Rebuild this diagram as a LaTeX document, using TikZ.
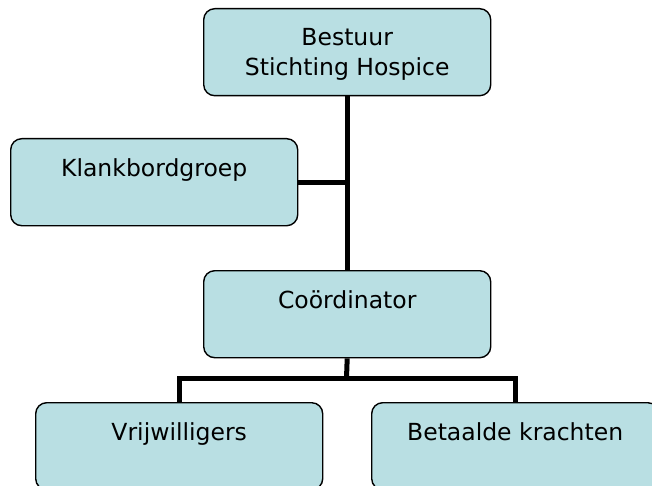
\documentclass[tikz,border=0pt]{standalone}
\usepackage{fontspec}
\setmainfont{DejaVu Sans}
\definecolor{boxfill}{HTML}{B9DFE3}
\begin{document}
\begin{tikzpicture}[x=1pt,y=-1pt,
  orgbox/.style={draw=black,line width=1.4pt,fill=boxfill,rounded corners=11pt,
    minimum width=287pt,minimum height=87pt,inner sep=0pt,anchor=north west},
  boxtext/.style={font=\fontsize{23.5}{30}\selectfont,align=center,anchor=north,inner sep=0pt},
  link/.style={line width=5pt}]
\useasboundingbox (0,0) rectangle (652,486);
\clip (0,0) rectangle (652,486);
% boxes
\node[orgbox] (top) at (203,8) {};
\node[orgbox] (klank) at (10,138) {};
\node[orgbox] (coord) at (203,270) {};
\node[orgbox] (vrij) at (35,402) {};
\node[orgbox] (bet) at (371,402) {};
% texts
\node[boxtext] (ttop) at ([yshift=-20pt]top.north) {Bestuur\\Stichting Hospice};
\node[boxtext] (tklank) at ([yshift=-20pt]klank.north) {Klankbordgroep};
\node[boxtext] (tcoord) at ([yshift=-20pt]coord.north) {Coördinator};
\node[boxtext] (tvrij) at ([yshift=-20pt]vrij.north) {Vrijwilligers};
\node[boxtext] (tbet) at ([yshift=-20pt]bet.north) {Betaalde krachten};
% connectors
\coordinate (bus) at (346.5,378);
\draw[link] (top.south) -- (coord.north);
\draw[link] (klank.east) -- (klank.east -| top.south);
\draw[link] (coord.south) -- (bus);
\draw[link,line join=miter] (vrij.north) |- (bus) -| (bet.north);
\end{tikzpicture}
\end{document}
